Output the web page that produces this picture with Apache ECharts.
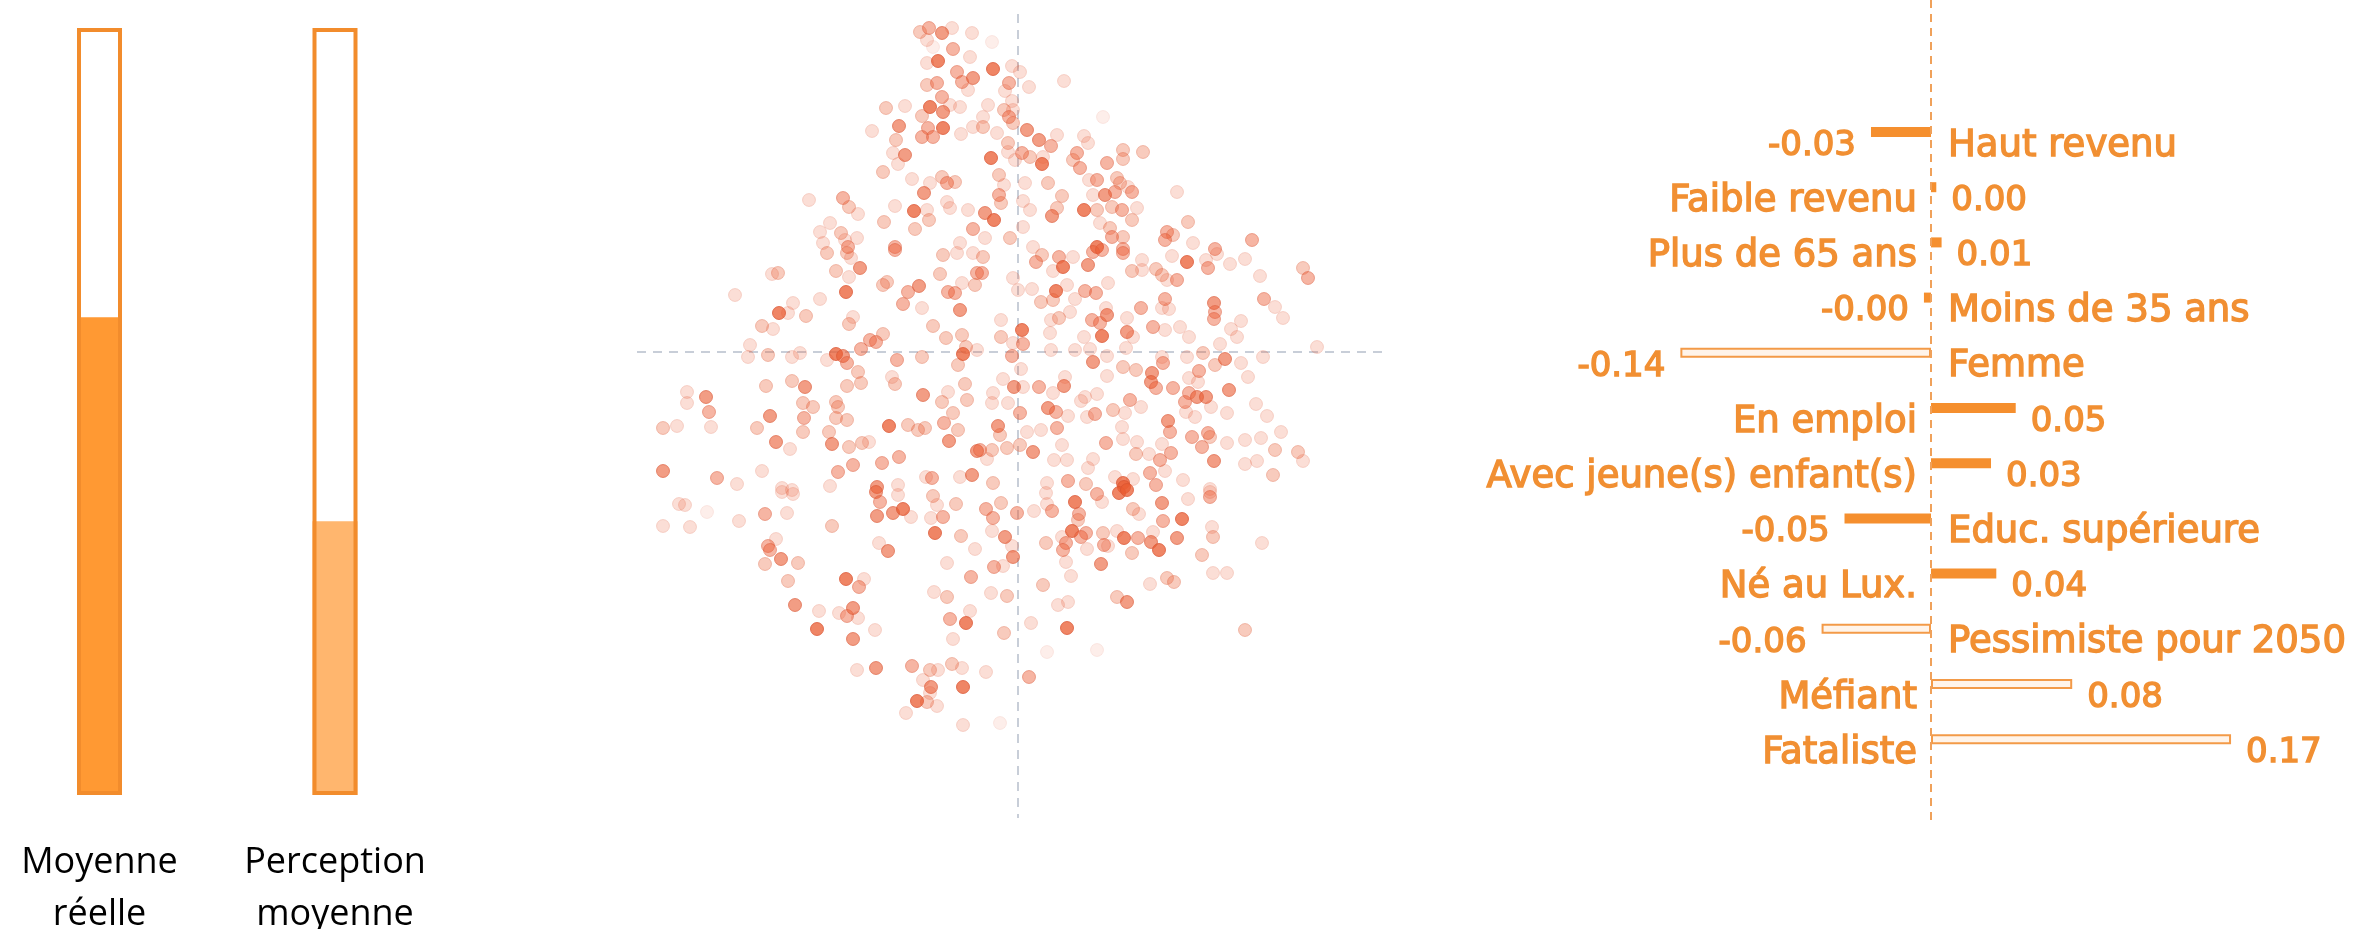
<!DOCTYPE html>
<html>
<head>
<meta charset="utf-8">
<script src="https://cdn.jsdelivr.net/npm/echarts@6/dist/echarts.min.js"></script>
<style>
  html, body { margin: 0; padding: 0; background: #fff; }
  #chart { width: 2379px; height: 929px; }
</style>
</head>
<body>
<div id="chart"></div>
<script>
// left: the two gauges (share of 1)
const gaugeLabels = ["Moyenne\nréelle", "Perception\nmoyenne"];
const gaugeValues = [0.623, 0.357];

// right: coefficients
const factorNames = [
  "Haut revenu",
  "Faible revenu",
  "Plus de 65 ans",
  "Moins de 35 ans",
  "Femme",
  "En emploi",
  "Avec jeune(s) enfant(s)",
  "Educ. supérieure",
  "Né au Lux.",
  "Pessimiste pour 2050",
  "Méfiant",
  "Fataliste",
];
const factorValues = [-0.034, 0.003, 0.006, -0.004, -0.142, 0.048, 0.034, -0.049, 0.037, -0.062, 0.08, 0.17];
const hollowFactors = ["Femme", "Pessimiste pour 2050", "Méfiant", "Fataliste"];

// middle: crosshair of the cloud
const crossX = 0.02;
const crossY = 0;
const hLineExtent = [-3.79, 3.72];
const vLineExtent = [3.38, -4.66];

// cloud points: [x, y, opacity]
const cloudTop = [
  [-0.96,3.20,.32],[-0.87,3.24,.45],[-0.74,3.19,.6],[-0.64,3.24,.2],[-0.44,3.19,.2],[-0.89,3.12,.2],[-0.83,3.05,.1],[-0.63,3.03,.45],[-0.78,2.91,.75],[-0.46,2.95,.2],[-0.89,2.89,.2],[-0.59,2.80,.45],[-0.43,2.74,.6],[-0.89,2.67,.32],[-0.79,2.69,.45],[-0.54,2.70,.45],[-0.48,2.62,.2],[-0.74,2.55,.45],[-0.86,2.45,.75],[-0.73,2.40,.6],[-0.56,2.45,.2],[-0.94,2.36,.32],[-0.66,2.47,.2],[-1.30,2.44,.32],[-1.11,2.46,.2],[-1.17,2.26,.6],[-0.88,2.24,.45],[-0.73,2.24,.75],[-0.94,2.15,.45],[-0.83,2.15,.45],[-0.55,2.18,.2],[-0.43,2.25,.2],[-1.44,2.21,.2],[-1.20,2.12,.32],[-1.23,1.99,.2],[-1.11,1.97,.6],[-1.18,1.88,.2],[-1.33,1.80,.32],[-1.04,1.73,.2],[-0.86,1.69,.2],[-0.74,1.75,.32],[-0.69,1.69,.45],[-0.61,1.70,.32],[-0.92,1.59,.6],[-2.07,1.52,.2],[-1.73,1.54,.45],[-1.67,1.45,.32],[-1.58,1.38,.2],[-1.21,1.46,.2],[-1.02,1.41,.75],[-0.89,1.42,.2],[-0.69,1.50,.2],[-0.66,1.44,.2],[-0.48,1.42,.2],[-1.32,1.30,.32],[-0.87,1.32,.32],[-1.01,1.23,.32],[-0.43,1.23,.45],[-1.86,1.29,.2],[-1.96,1.20,.2],[-1.75,1.19,.32],[-1.71,1.12,.2],[-1.59,1.14,.2],[-1.93,1.09,.2],[-1.68,1.05,.45],[-1.21,1.05,.45],[-0.56,1.09,.2],
  [-0.24,3.10,.1],[-0.23,2.83,.75],[-0.04,2.86,.2],[0.04,2.80,.2],[-0.07,2.69,.45],[0.13,2.65,.2],[0.48,2.71,.2],[-0.11,2.61,.2],[-0.28,2.47,.2],[-0.04,2.51,.2],[-0.12,2.42,.32],[-0.03,2.42,.2],[-0.33,2.35,.2],[-0.07,2.35,.45],[-0.03,2.29,.32],[-0.33,2.25,.32],[-0.19,2.19,.2],[0.87,2.35,.1],[0.11,2.22,.6],[0.23,2.12,.6],[0.41,2.17,.2],[0.35,2.06,.45],[-0.08,2.09,.32],[0.68,2.16,.2],[0.72,2.09,.2],[-0.25,1.94,.75],[-0.08,2.00,.2],[0.06,1.99,.45],[0.14,1.95,.32],[0.27,1.95,.2],[0.26,1.88,.75],[-0.01,1.92,.2],[0.61,1.99,.45],[0.57,1.92,.32],[0.64,1.84,.45],[1.07,2.02,.32],[1.27,2.00,.32],[1.07,1.93,.32],[0.91,1.89,.45],[-0.17,1.77,.32],[-0.12,1.67,.2],[0.09,1.69,.2],[0.32,1.69,.32],[0.73,1.72,.2],[0.81,1.72,.45],[1.01,1.74,.32],[1.04,1.69,.32],[1.12,1.65,.2],[1.16,1.60,.45],[1.61,1.60,.2],[-0.17,1.57,.45],[-0.15,1.49,.32],[0.46,1.56,.32],[0.77,1.57,.2],[0.89,1.57,.6],[0.99,1.60,.45],[0.07,1.51,.2],[0.14,1.42,.2],[-0.31,1.39,.6],[-0.22,1.32,.75],[0.36,1.36,.6],[0.41,1.44,.32],[0.68,1.42,.75],[0.81,1.42,.32],[0.96,1.45,.32],[1.06,1.42,.45],[1.21,1.44,.2],[1.16,1.32,.32],[1.72,1.30,.32],[0.07,1.25,.2],[0.84,1.29,.2],[0.94,1.24,.32],[0.96,1.15,.45],[1.07,1.15,.32],[1.51,1.20,.45],[1.57,1.17,.32],[1.49,1.12,.45],[1.77,1.09,.2],[2.36,1.12,.45],[-0.31,1.14,.2],[-0.06,1.14,.32],[0.17,1.05,.2],[0.81,1.05,.75],[1.99,1.03,.45],[1.07,1.03,.45],
];
const cloudMiddle = [
  [-1.89,0.99,.32],[-1.69,0.99,.32],[-1.65,0.94,.2],[-1.21,1.02,.45],[-0.73,0.97,.32],[-0.59,0.99,.2],[-0.43,0.99,.2],[-2.38,0.79,.32],[-2.44,0.78,.2],[-1.80,0.81,.32],[-1.56,0.84,.6],[-1.67,0.75,.2],[-0.76,0.78,.32],[-0.39,0.79,.45],[-1.29,0.70,.32],[-1.33,0.67,.32],[-0.97,0.66,.6],[-1.08,0.60,.45],[-0.68,0.60,.45],[-0.61,0.59,.45],[-0.54,0.69,.2],[-0.41,0.67,.32],[-1.70,0.60,.75],[-2.81,0.57,.2],[-1.96,0.53,.2],[-2.23,0.49,.2],[-2.37,0.39,.75],[-2.10,0.36,.32],[-2.28,0.39,.2],[-1.13,0.48,.45],[-0.94,0.44,.2],[-0.56,0.42,.6],[-2.54,0.26,.32],[-2.43,0.23,.2],[-1.67,0.28,.32],[-1.63,0.35,.2],[-0.83,0.26,.32],[-0.54,0.17,.32],[-0.70,0.14,.32],[-1.33,0.18,.32],[-1.46,0.12,.45],[-1.40,0.10,.45],[-2.66,0.07,.2],[-2.68,-0.05,.2],[-2.48,-0.03,.32],[-2.24,-0.05,.2],[-2.16,-0.01,.2],[-1.80,-0.02,.75],[-1.73,-0.04,.6],[-1.69,-0.11,.45],[-1.55,0.03,.45],[-1.89,-0.08,.2],[-1.19,-0.08,.45],[-0.94,-0.05,.32],[-0.53,-0.02,.75],[-0.50,0.05,.32],[-0.39,0.02,.2],[-0.58,-0.13,.32],[-1.58,-0.20,.32],[-1.55,-0.31,.32],[-1.69,-0.34,.32],[-2.50,-0.34,.32],[-2.24,-0.29,.32],[-2.11,-0.35,.6],[-1.21,-0.32,.32],[-1.24,-0.25,.2],[-0.93,-0.43,.6],[-0.51,-0.32,.32],[-0.68,-0.40,.2],[-3.29,-0.40,.2],[-3.29,-0.51,.2],[-3.10,-0.45,.6],[-3.07,-0.60,.45],[-3.05,-0.75,.2],[-3.53,-0.76,.32],[-3.39,-0.74,.2],[-2.13,-0.51,.32],[-2.03,-0.55,.32],[-1.80,-0.50,.32],[-1.78,-0.55,.32],[-0.74,-0.50,.32],[-0.49,-0.48,.32],[-2.46,-0.64,.6],[-2.12,-0.66,.45],[-2.59,-0.76,.32],[-2.13,-0.80,.32],[-1.80,-0.66,.32],[-1.69,-0.68,.32],[-1.87,-0.80,.32],[-1.27,-0.74,.75],[-1.08,-0.73,.32],[-0.98,-0.78,.32],[-0.91,-0.76,.32],[-0.63,-0.61,.32],[-0.72,-0.71,.45],[-0.58,-0.78,.32],[-2.40,-0.90,.6],[-2.26,-0.97,.2],[-1.84,-0.92,.6],[-1.67,-0.95,.32],[-1.54,-0.91,.32],[-1.47,-0.90,.2],[-0.67,-0.89,.6],[-0.39,-0.99,.6],[-3.53,-1.19,.6],[-2.99,-1.26,.45],[-2.79,-1.32,.2],[-2.54,-1.19,.2],[-1.78,-1.20,.45],[-1.63,-1.13,.45],[-1.34,-1.11,.45],[-1.17,-1.05,.45],[-1.18,-1.33,.2],[-1.39,-1.35,.6],[-0.84,-1.26,.45],[-0.90,-1.25,.2],[-0.44,-1.23,.6],[-0.56,-1.25,.2],[-2.34,-1.36,.2],[-2.24,-1.38,.2],[-1.86,-1.34,.2],
  [-0.33,0.95,.32],[-0.34,0.79,.45],[0.20,0.90,.45],[0.26,0.97,.32],[0.43,0.95,.45],[0.47,0.85,.75],[0.57,0.95,.2],[0.37,0.81,.2],[0.72,0.87,.6],[0.77,1.00,.45],[0.86,1.02,.45],[1.07,0.99,.45],[1.16,0.81,.32],[1.26,0.92,.2],[1.26,0.82,.2],[1.40,0.83,.32],[1.46,0.77,.32],[1.56,0.96,.2],[1.61,0.72,.45],[1.51,0.72,.2],[1.71,0.90,.75],[1.92,0.84,.45],[1.90,0.92,.2],[2.01,0.98,.2],[2.14,0.88,.2],[2.29,0.93,.2],[2.44,0.76,.2],[2.87,0.84,.32],[2.92,0.74,.45],[-0.03,0.74,.2],[0.02,0.62,.2],[0.40,0.61,.75],[0.51,0.67,.2],[0.69,0.61,.45],[0.80,0.59,.45],[0.92,0.69,.2],[0.16,0.63,.2],[0.25,0.50,.32],[0.37,0.52,.32],[0.59,0.53,.2],[0.54,0.40,.2],[0.43,0.34,.32],[0.35,0.32,.2],[0.76,0.32,.45],[0.84,0.29,.45],[0.91,0.37,.6],[0.90,0.44,.2],[1.11,0.34,.2],[1.25,0.44,.45],[1.49,0.53,.45],[1.46,0.44,.2],[1.53,0.43,.2],[1.37,0.25,.45],[1.49,0.22,.2],[1.64,0.25,.2],[1.98,0.49,.6],[1.99,0.40,.45],[1.98,0.33,.45],[2.15,0.23,.2],[2.25,0.31,.2],[2.21,0.15,.2],[2.48,0.53,.45],[2.59,0.45,.2],[2.67,0.34,.2],[-0.15,0.32,.2],[-0.15,0.15,.32],[0.06,0.22,.75],[0.07,0.08,.45],[-0.03,0.09,.2],[0.34,0.19,.2],[0.68,0.15,.2],[0.86,0.16,.75],[1.11,0.20,.6],[1.17,0.15,.2],[1.73,0.15,.2],[2.04,0.08,.2],[-0.04,-0.04,.45],[0.35,0.02,.2],[0.59,0.02,.2],[0.74,0.03,.2],[0.77,-0.10,.6],[0.91,-0.04,.2],[1.10,0.04,.2],[1.07,-0.15,.32],[1.20,-0.18,.32],[1.46,-0.05,.2],[1.47,-0.11,.45],[1.71,-0.05,.2],[1.87,-0.01,.32],[1.99,-0.13,.32],[2.09,-0.07,.6],[2.25,-0.11,.2],[2.47,-0.05,.2],[3.01,0.05,.2],[0.05,-0.17,.2],[-0.13,-0.27,.2],[-0.02,-0.35,.6],[0.07,-0.35,.2],[0.23,-0.35,.45],[0.49,-0.25,.2],[0.48,-0.34,.6],[0.91,-0.24,.2],[1.36,-0.21,.6],[1.35,-0.30,.6],[1.40,-0.36,.45],[1.57,-0.36,.45],[1.73,-0.26,.2],[1.83,-0.19,.45],[1.82,-0.30,.2],[2.32,-0.25,.2],[2.13,-0.38,.6],[-0.23,-0.41,.2],[-0.08,-0.51,.2],[-0.24,-0.51,.2],[0.37,-0.41,.2],[0.69,-0.45,.2],[0.81,-0.42,.2],[0.65,-0.49,.2],[1.14,-0.48,.45],[1.25,-0.55,.2],[1.69,-0.50,.45],[1.73,-0.41,.45],[1.81,-0.45,.6],[1.90,-0.45,.6],[1.95,-0.55,.2],[2.40,-0.52,.2],[2.51,-0.64,.2],[0.32,-0.56,.6],[0.40,-0.60,.45],[0.04,-0.61,.45],[0.52,-0.64,.2],[0.79,-0.62,.45],[0.71,-0.65,.2],[0.97,-0.58,.32],[1.09,-0.61,.2],[1.52,-0.69,.6],[1.54,-0.80,.45],[1.70,-0.60,.2],[1.79,-0.65,.2],[2.11,-0.61,.2],[-0.18,-0.74,.6],[-0.16,-0.83,.32],[0.11,-0.80,.2],[0.25,-0.78,.2],[0.41,-0.76,.45],[1.06,-0.75,.2],[1.76,-0.85,.45],[1.86,-0.95,.45],[1.92,-0.81,.45],[1.94,-0.85,.32],[2.11,-0.91,.2],[2.29,-0.88,.2],[2.45,-0.86,.2],[2.65,-0.80,.2],[-0.36,-0.98,.45],[-0.24,-0.98,.32],[-0.09,-0.96,.32],[0.04,-0.93,.32],[0.17,-1.00,.6],[0.46,-0.93,.2],[0.90,-0.91,.45],[1.07,-0.87,.2],[1.21,-0.90,.2],[1.20,-1.02,.32],[1.46,-0.92,.2],[1.55,-1.01,.45],[1.44,-1.08,.45],[1.33,-1.02,.2],[1.98,-1.09,.6],[2.59,-0.98,.32],[2.82,-1.00,.32],[2.87,-1.09,.2],[2.41,-1.09,.2],[2.29,-1.12,.2],[-0.29,-1.07,.2],[0.38,-1.08,.2],[0.51,-1.08,.2],[0.72,-1.16,.2],[0.77,-1.07,.2],[1.34,-1.21,.45],[1.49,-1.19,.2],[1.67,-1.28,.2],[2.57,-1.23,.32],[-0.23,-1.31,.32],[0.31,-1.31,.2],[0.52,-1.29,.45],[0.70,-1.32,.32],[0.99,-1.25,.2],[1.07,-1.31,.75],[1.08,-1.35,.75],[1.17,-1.27,.2],[1.40,-1.33,.45],[1.94,-1.37,.2],
];
const cloudBottom = [
  [-3.37,-1.52,.2],[-3.31,-1.53,.2],[-3.53,-1.74,.2],[-3.26,-1.75,.2],[-3.09,-1.60,.1],[-2.77,-1.69,.2],[-2.51,-1.62,.45],[-2.29,-1.61,.2],[-2.34,-1.40,.2],[-2.23,-1.42,.2],[-1.84,-1.74,.32],[-2.40,-1.87,.2],[-2.48,-1.94,.45],[-2.46,-1.98,.45],[-2.51,-2.12,.32],[-2.35,-2.07,.6],[-2.18,-2.11,.32],[-2.28,-2.29,.32],[-1.40,-1.40,.6],[-1.36,-1.50,.45],[-1.39,-1.64,.6],[-1.23,-1.61,.6],[-1.13,-1.57,.75],[-1.18,-1.43,.2],[-1.05,-1.65,.2],[-0.83,-1.44,.32],[-0.79,-1.53,.2],[-0.85,-1.66,.2],[-0.73,-1.65,.45],[-0.60,-1.52,.32],[-0.81,-1.81,.75],[-0.55,-1.84,.32],[-0.41,-1.97,.2],[-1.37,-1.91,.2],[-1.28,-1.99,.6],[-0.69,-2.11,.2],[-0.45,-2.25,.45],[-1.70,-2.27,.75],[-1.52,-2.27,.2],[-1.57,-2.35,.45],[-0.82,-2.40,.2],[-0.69,-2.45,.32],[-2.21,-2.53,.6],[-1.97,-2.59,.2],[-1.77,-2.61,.2],[-1.69,-2.64,.45],[-1.63,-2.56,.6],[-1.58,-2.66,.2],[-1.99,-2.77,.75],[-1.63,-2.87,.6],[-1.41,-2.78,.2],[-0.66,-2.67,.45],[-0.50,-2.71,.75],[-0.46,-2.59,.2],[-0.63,-2.87,.2],[-1.59,-3.18,.2],[-1.40,-3.16,.6],[-1.04,-3.14,.45],[-0.86,-3.18,.32],[-0.78,-3.18,.2],[-0.64,-3.12,.32],[-0.54,-3.16,.2],[-0.93,-3.28,.2],[-0.85,-3.35,.6],[-0.53,-3.35,.75],[-0.86,-3.41,.2],[-0.99,-3.49,.75],[-0.89,-3.50,.32],[-0.79,-3.54,.2],[-1.10,-3.61,.2],[-0.53,-3.73,.2],
  [-0.30,-1.57,.45],[-0.23,-1.66,.45],[-0.15,-1.51,.32],[-0.24,-1.79,.2],[-0.11,-1.85,.6],[-0.04,-1.94,.2],[-0.03,-2.05,.6],[-0.22,-2.15,.45],[-0.13,-2.14,.2],[0.01,-1.61,.45],[0.18,-1.59,.2],[0.31,-1.52,.2],[0.36,-1.59,.45],[0.30,-1.41,.2],[0.59,-1.50,.75],[0.63,-1.62,.45],[0.62,-1.68,.32],[0.81,-1.42,.45],[0.86,-1.50,.2],[1.03,-1.41,.75],[1.11,-1.38,.75],[1.17,-1.57,.32],[1.23,-1.62,.2],[1.46,-1.51,.6],[1.47,-1.69,.45],[1.66,-1.67,.75],[1.72,-1.47,.2],[1.94,-1.45,.45],[1.94,-1.40,.2],[0.56,-1.79,.75],[0.70,-1.81,.45],[0.65,-1.85,.45],[0.46,-1.85,.2],[0.50,-1.91,.45],[0.47,-1.98,.45],[0.30,-1.91,.32],[0.50,-2.10,.2],[0.71,-1.97,.2],[0.87,-1.81,.32],[0.88,-1.93,.45],[0.92,-1.94,.2],[1.01,-1.79,.2],[1.08,-1.86,.75],[1.22,-1.86,.45],[1.35,-1.90,.6],[1.37,-1.80,.2],[1.43,-1.98,.75],[1.61,-1.86,.6],[1.16,-2.01,.32],[0.85,-2.12,.6],[1.86,-2.03,.32],[1.96,-1.75,.2],[1.97,-1.85,.32],[2.46,-1.91,.2],[0.55,-2.24,.2],[0.27,-2.33,.32],[1.34,-2.32,.2],[1.51,-2.26,.32],[1.58,-2.30,.32],[1.97,-2.21,.2],[2.11,-2.21,.2],[-0.25,-2.41,.2],[-0.09,-2.44,.32],[0.42,-2.53,.2],[0.52,-2.50,.2],[1.01,-2.45,.32],[1.11,-2.50,.6],[0.15,-2.71,.2],[-0.12,-2.81,.32],[0.51,-2.76,.75],[2.29,-2.78,.32],[-0.30,-3.20,.2],[0.13,-3.25,.45],[0.31,-3.00,.1],[0.81,-2.98,.1],[-0.16,-3.71,.1],
];

const ORANGE = "#F28C2C";
const TEXT_ORANGE = "#F18F32";
const chart = echarts.init(document.getElementById("chart"));

const cloud = cloudTop.concat(cloudMiddle, cloudBottom).map(([x, y, a]) => ({
  value: [x, y],
  itemStyle: { opacity: a },
}));

const labelFont = {
  fontFamily: "DejaVu Sans",
  fontSize: 37,
  color: TEXT_ORANGE,
  textBorderColor: TEXT_ORANGE,
  textBorderWidth: 1.4,
};

chart.setOption({
  animation: false,
  backgroundColor: "#fff",
  grid: [
    { left: 99.5, top: 28, width: 235.5, height: 767, outerBoundsMode: "none" },
    { left: 616, top: 2, width: 800, height: 820, outerBoundsMode: "none" },
    { left: 1578, top: 104.4, width: 794.25, height: 662.4, outerBoundsMode: "none" },
    { left: 1578, top: 0, width: 794.25, height: 820, outerBoundsMode: "none" },
  ],
  xAxis: [
    {
      gridIndex: 0,
      type: "category",
      boundaryGap: false,
      data: gaugeLabels,
      axisLine: { show: false },
      axisTick: { show: false },
      axisLabel: {
        interval: 0,
        margin: 42,
        fontFamily: "Open Sans",
        fontSize: 36,
        lineHeight: 52,
        color: "#000",
      },
    },
    { gridIndex: 1, type: "value", min: -4, max: 4, show: false },
    { gridIndex: 2, type: "value", min: -0.2, max: 0.25, show: false },
    { gridIndex: 3, type: "value", min: -0.2, max: 0.25, show: false },
  ],
  yAxis: [
    { gridIndex: 0, type: "value", min: 0, max: 1, show: false },
    { gridIndex: 1, type: "value", min: -4.7, max: 3.5, show: false },
    { gridIndex: 2, type: "category", data: factorNames, inverse: true, show: false },
    { gridIndex: 3, type: "value", min: 0, max: 1, show: false },
  ],
  series: [
    // gauges
    {
      type: "bar",
      xAxisIndex: 0,
      yAxisIndex: 0,
      barWidth: 45,
      data: gaugeValues.map((v, i) => ({
        value: v,
        itemStyle: { color: i === 0 ? "#FF9933" : "#FFB66E" },
      })),
      z: 2,
    },
    {
      type: "bar",
      xAxisIndex: 0,
      yAxisIndex: 0,
      barWidth: 45,
      barGap: "-100%",
      data: gaugeValues.map(() => 1),
      itemStyle: { color: "rgba(0,0,0,0)", borderColor: ORANGE, borderWidth: 4 },
      z: 3,
    },
    // crosshair
    {
      type: "line",
      xAxisIndex: 1,
      yAxisIndex: 1,
      symbol: "none",
      data: hLineExtent.map((x) => [x, crossY]),
      lineStyle: { color: "#C8CED8", width: 2, type: [9, 7] },
      z: 1,
    },
    {
      type: "line",
      xAxisIndex: 1,
      yAxisIndex: 1,
      symbol: "none",
      data: vLineExtent.map((y) => [crossX, y]),
      lineStyle: { color: "#C8CED8", width: 2, type: [9, 7] },
      z: 1,
    },
    // cloud
    {
      type: "scatter",
      xAxisIndex: 1,
      yAxisIndex: 1,
      symbolSize: 13,
      data: cloud,
      itemStyle: { color: "#EA5C32", borderColor: "#DA5330", borderWidth: 1 },
      z: 2,
    },
    // coefficient bars with value labels
    {
      type: "bar",
      xAxisIndex: 2,
      yAxisIndex: 2,
      barWidth: 10,
      data: factorValues.map((v, i) => ({
        value: v,
        itemStyle: hollowFactors.includes(factorNames[i])
          ? { color: "#FFF4EA", borderColor: "#F39A48", borderWidth: 2 }
          : { color: "#F58F2E" },
        label: { position: v < 0 ? "left" : "right" },
      })),
      label: {
        show: true,
        distance: 15,
        offset: [0, 14],
        formatter: (p) => p.value.toFixed(2),
        ...labelFont,
        fontSize: 34,
      },
      z: 3,
    },
    // category names on the other side of zero
    {
      type: "bar",
      xAxisIndex: 2,
      yAxisIndex: 2,
      barWidth: 10,
      barGap: "-100%",
      data: factorValues.map((v) => ({
        value: v,
        label: { position: v < 0 ? "right" : "left", distance: v < 0 ? 17 : 14 },
      })),
      itemStyle: { color: "rgba(0,0,0,0)" },
      label: {
        show: true,
        offset: [0, 14],
        formatter: (p) => p.name,
        ...labelFont,
      },
      z: 2,
    },
    // zero line
    {
      type: "line",
      xAxisIndex: 3,
      yAxisIndex: 3,
      symbol: "none",
      data: [[0, 0], [0, 1]],
      lineStyle: { color: "#F0A15A", width: 2, type: [8, 6] },
      z: 4,
    },
  ],
});
</script>
</body>
</html>
